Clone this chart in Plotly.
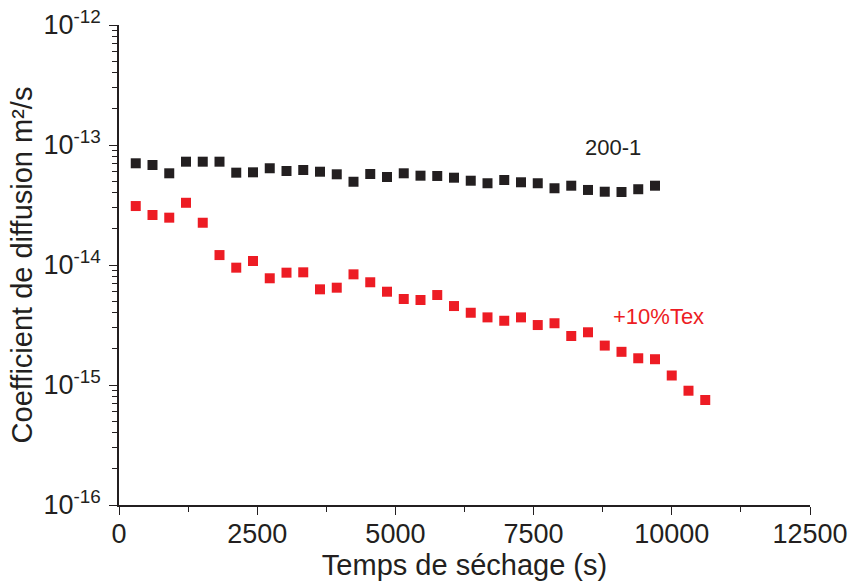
import plotly.graph_objects as go

# ---- data ----
t_black = [303 * i for i in range(1, 33)]
d_black = [7.04e-14, 6.81e-14, 5.81e-14, 7.26e-14, 7.26e-14, 7.26e-14, 5.88e-14, 5.92e-14,
           6.40e-14, 6.07e-14, 6.19e-14, 5.99e-14, 5.70e-14, 4.94e-14, 5.73e-14, 5.41e-14,
           5.81e-14, 5.55e-14, 5.52e-14, 5.34e-14, 5.04e-14, 4.80e-14, 5.11e-14, 4.89e-14,
           4.80e-14, 4.36e-14, 4.58e-14, 4.22e-14, 4.08e-14, 4.06e-14, 4.28e-14, 4.58e-14]

t_red = [303 * i for i in range(1, 36)]
d_red = [3.10e-14, 2.61e-14, 2.48e-14, 3.30e-14, 2.25e-14, 1.21e-14, 9.50e-15, 1.08e-14,
         7.75e-15, 8.63e-15, 8.69e-15, 6.27e-15, 6.47e-15, 8.36e-15, 7.18e-15, 5.99e-15,
         5.21e-15, 5.11e-15, 5.62e-15, 4.55e-15, 4.00e-15, 3.66e-15, 3.43e-15, 3.66e-15,
         3.16e-15, 3.27e-15, 2.56e-15, 2.75e-15, 2.13e-15, 1.89e-15, 1.67e-15, 1.64e-15,
         1.20e-15, 8.96e-16, 7.50e-16]

x_tickvals = [0, 2500, 5000, 7500, 10000, 12500]
x_ticktext = ["0", "2500", "5000", "7500", "10000", "12500"]
y_tickvals = [1e-16, 1e-15, 1e-14, 1e-13, 1e-12]
y_ticktext = ["10<sup>-16</sup>", "10<sup>-15</sup>", "10<sup>-14</sup>",
              "10<sup>-13</sup>", "10<sup>-12</sup>"]

BLACK = "#231f20"
RED = "#ed1c24"
FONT = "Liberation Sans"

fig = go.Figure()
fig.add_trace(go.Scatter(x=t_black, y=d_black, mode="markers", name="200-1",
                         marker=dict(symbol="square", size=10, color=BLACK)))
fig.add_trace(go.Scatter(x=t_red, y=d_red, mode="markers", name="+10%Tex",
                         marker=dict(symbol="square", size=10, color=RED)))

fig.add_annotation(x=8940, y=-13.02, text="200-1", showarrow=False,
                   xref="x", yref="y", font=dict(size=22, color=BLACK, family=FONT))
fig.add_annotation(x=9755, y=-14.43, text="+10%Tex", showarrow=False,
                   xref="x", yref="y", font=dict(size=22, color=RED, family=FONT))

fig.update_layout(
    width=850, height=586,
    margin=dict(l=119, r=40, t=25, b=81),
    paper_bgcolor="white", plot_bgcolor="white",
    showlegend=False,
    font=dict(family=FONT, color=BLACK),
    xaxis=dict(
        range=[0, 12500], tickvals=x_tickvals, ticktext=x_ticktext, automargin=False,
        ticks="outside", ticklen=8, tickwidth=1.3, ticklabelstandoff=-4,
        tickcolor=BLACK, showline=True, linecolor=BLACK, linewidth=1.5, showgrid=False,
        zeroline=False, tickfont=dict(size=27, family=FONT, color=BLACK),
        minor=dict(ticks="outside", ticklen=5, dtick=1250, tickwidth=1.2, tickcolor=BLACK, showgrid=False),
        title=dict(text="Temps de séchage (s)", font=dict(size=29, family=FONT, color=BLACK), standoff=2),
    ),
    yaxis=dict(
        type="log", range=[-16, -12], tickvals=y_tickvals, ticktext=y_ticktext, automargin=False,
        ticks="outside", ticklen=8, tickwidth=1.3, tickcolor=BLACK, ticklabelstandoff=3,
        showline=True, linecolor=BLACK, linewidth=1.5, showgrid=False, zeroline=False,
        tickfont=dict(size=27, family=FONT, color=BLACK),
        minor=dict(ticks="outside", ticklen=5, dtick="D1", tickwidth=1.2, tickcolor=BLACK, showgrid=False),
        title=dict(text="Coefficient de diffusion m²/s", font=dict(size=29, family=FONT, color=BLACK), standoff=2),
    ),
)

fig.write_html("out.html", config={"displayModeBar": False},
               post_script="document.body.style.margin='0';")
